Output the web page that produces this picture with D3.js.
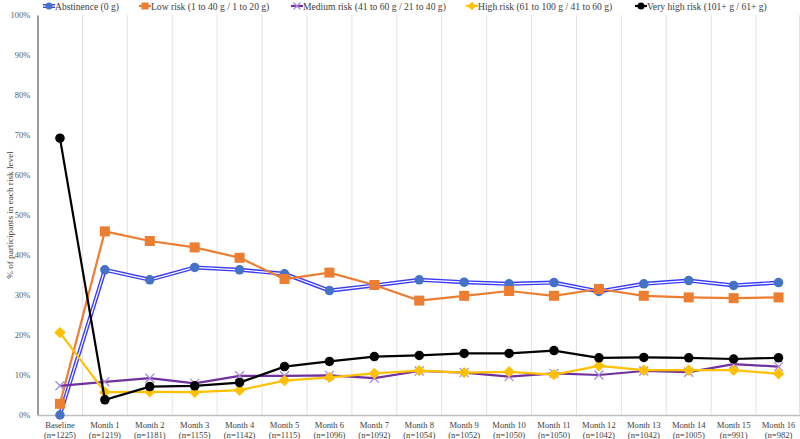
<!DOCTYPE html>
<html><head><meta charset="utf-8">
<script src="https://cdn.jsdelivr.net/npm/d3@7"></script>
<style>body{margin:0;background:#fff;} svg{display:block;} text{font-family:'Liberation Serif','Times New Roman',Tinos,serif;}</style>
</head><body>
<svg id="chart" width="800" height="439"></svg>
<script>
const categories = ["Baseline","Month 1","Month 2","Month 3","Month 4","Month 5","Month 6","Month 7","Month 8","Month 9","Month 10","Month 11","Month 12","Month 13","Month 14","Month 15","Month 16"];
const sampleSizes = ["(n=1225)","(n=1219)","(n=1181)","(n=1155)","(n=1142)","(n=1115)","(n=1096)","(n=1092)","(n=1054)","(n=1052)","(n=1050)","(n=1050)","(n=1042)","(n=1042)","(n=1005)","(n=991)","(n=982)"];
const abstinence = [0,36.3,33.8,36.9,36.3,35.3,31.1,32.4,33.8,33.2,32.8,33.1,30.9,32.8,33.6,32.4,33.1];
const lowRisk = [2.8,45.9,43.5,41.9,39.3,34.0,35.6,32.5,28.6,29.8,31.0,29.8,31.5,29.8,29.4,29.2,29.4];
const mediumRisk = [7.3,8.3,9.2,7.9,9.8,9.8,9.9,9.2,11.0,10.6,9.6,10.4,10.0,11.0,10.7,12.7,12.1];
const highRisk = [20.6,5.7,5.8,5.7,6.2,8.6,9.4,10.4,11.1,10.6,10.8,10.1,12.3,11.2,11.2,11.2,10.3];
const veryHighRisk = [69.2,3.8,7.1,7.3,8.1,12.1,13.4,14.6,14.9,15.4,15.4,16.1,14.3,14.4,14.3,14.0,14.3];
const yTicks = [0,10,20,30,40,50,60,70,80,90,100];

const FONT = "'Liberation Serif','Times New Roman',Tinos,serif";

const series = [
  {name:"Abstinence (0 g)", values:abstinence, color:"#3a3aff", marker:"circle", mcolor:"#4472C4", dbl:true},
  {name:"Low risk (1 to 40 g / 1 to 20 g)", values:lowRisk, color:"#ED7D31", marker:"square", mcolor:"#ED7D31"},
  {name:"Medium risk (41 to 60 g / 21 to 40 g)", values:mediumRisk, color:"#7030A0", marker:"cross", mcolor:"#a98bd8"},
  {name:"High risk (61 to 100 g / 41 to 60 g)", values:highRisk, color:"#FFC000", marker:"diamond", mcolor:"#FFC000"},
  {name:"Very high risk (101+ g / 61+ g)", values:veryHighRisk, color:"#000000", marker:"circle", mcolor:"#000000"}
];

const svg = d3.select("#chart");
const L = 37.5, R = 801, T = 15, B = 415;
const x = d3.scaleBand().domain(categories).range([L,R]);
const y = d3.scaleLinear().domain([0,100]).range([B,T]);

// vertical gridlines at category boundaries
const g = svg.append("g");
categories.forEach((c,i)=>{
  if(i===0) return;
  g.append("line").attr("x1",x(c)).attr("x2",x(c)).attr("y1",T).attr("y2",B)
    .attr("stroke","#e3e3e3").attr("stroke-width",1);
});
g.append("line").attr("x1",R-1.5).attr("x2",R-1.5).attr("y1",T).attr("y2",B).attr("stroke","#e3e3e3");

// y axis
const yAxis = d3.axisLeft(y).tickValues(yTicks).tickFormat(d=>d+"%").tickSize(0).tickPadding(7);
const ya = svg.append("g").attr("transform",`translate(${L},0)`).call(yAxis).attr("font-family",FONT);
ya.select(".domain").attr("stroke","#595959").attr("stroke-width",1.2);
ya.selectAll("text").attr("font-family",FONT).attr("font-size",8.6).attr("fill","#595959");

// x axis
const xAxis = d3.axisBottom(x).tickSize(0).tickFormat("");
const xa = svg.append("g").attr("transform",`translate(0,${B})`).call(xAxis);
xa.select(".domain").attr("stroke","#bfbfbf").attr("stroke-width",1.5);
categories.forEach((c,i)=>{
  const px = x(c)+x.bandwidth()/2;
  const t = svg.append("text").attr("text-anchor","middle").attr("font-family",FONT)
    .attr("font-size",8.6).attr("fill","#404040");
  t.append("tspan").attr("x",px).attr("y",428).text(c);
  t.append("tspan").attr("x",px).attr("y",437.5).text(sampleSizes[i]);
});

// y title
svg.append("text").attr("transform","translate(13,215) rotate(-90)").attr("text-anchor","middle")
  .attr("font-family",FONT).attr("font-size",9.2).attr("fill","#404040").text("% of participants in each risk level");

const cx = c => x(c)+x.bandwidth()/2;
const line = d3.line().x((d,i)=>cx(categories[i])).y(d=>y(d));

function drawMarker(sel, type, px, py, col, size){
  if(type==="circle") sel.append("circle").attr("cx",px).attr("cy",py).attr("r",size*0.5).attr("fill",col);
  else if(type==="square") sel.append("rect").attr("x",px-size/2).attr("y",py-size/2).attr("width",size).attr("height",size).attr("fill",col);
  else if(type==="diamond") sel.append("path").attr("d",`M${px},${py-size*0.6}L${px+size*0.6},${py}L${px},${py+size*0.6}L${px-size*0.6},${py}Z`).attr("fill",col);
  else if(type==="cross") sel.append("path").attr("d",`M${px-size/2},${py-size/2}L${px+size/2},${py+size/2}M${px-size/2},${py+size/2}L${px+size/2},${py-size/2}`).attr("stroke",col).attr("stroke-width",1.3).attr("fill","none");
}

series.forEach(s=>{
  const gs = svg.append("g");
  if(s.dbl){
    gs.append("path").datum(s.values).attr("d",line).attr("fill","none").attr("stroke",s.color).attr("stroke-width",4);
    gs.append("path").datum(s.values).attr("d",line).attr("fill","none").attr("stroke","#fff").attr("stroke-width",1.2);
  } else {
    gs.append("path").datum(s.values).attr("d",line).attr("fill","none").attr("stroke",s.color).attr("stroke-width",2.2);
  }
  s.values.forEach((v,i)=>{
    const sz = s.marker==="circle"?9.5:(s.marker==="square"?10:(s.marker==="diamond"?9.5:9));
    drawMarker(gs, s.marker, cx(categories[i]), y(v), s.mcolor, sz);
  });
});

// legend
const legX = [43, 139, 291, 466, 635];
series.forEach((s,i)=>{
  const lg = svg.append("g");
  const lx = legX[i], ly = 6;
  if(s.dbl){
    lg.append("line").attr("x1",lx).attr("x2",lx+12).attr("y1",ly).attr("y2",ly).attr("stroke",s.color).attr("stroke-width",4);
    lg.append("line").attr("x1",lx).attr("x2",lx+12).attr("y1",ly).attr("y2",ly).attr("stroke","#fff").attr("stroke-width",1.2);
  } else {
    lg.append("line").attr("x1",lx).attr("x2",lx+12).attr("y1",ly).attr("y2",ly).attr("stroke",s.color).attr("stroke-width",2.2);
  }
  drawMarker(lg, s.marker, lx+6, ly, s.mcolor, 7);
  lg.append("text").attr("x",lx+12).attr("y",ly+3.5).attr("font-family",FONT).attr("font-size",9.6).attr("fill","#404040").text(s.name);
});
</script>
</body></html>
